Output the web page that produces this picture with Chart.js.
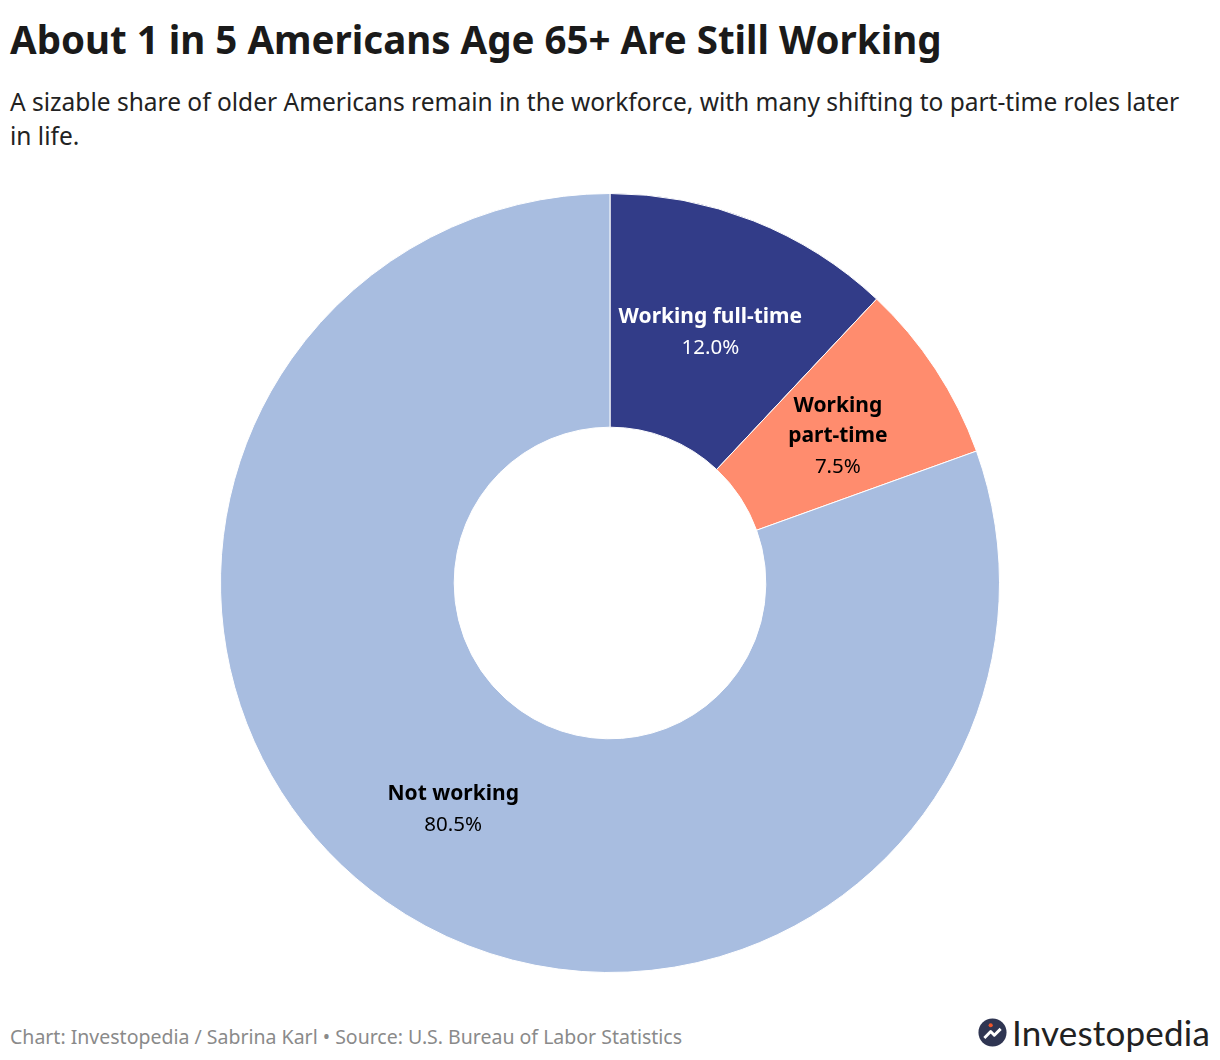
<!DOCTYPE html>
<html>
<head>
<meta charset="utf-8">
<script src="https://cdn.jsdelivr.net/npm/chart.js@4.4.1/dist/chart.umd.min.js"></script>
<style>
  html, body { margin: 0; padding: 0; background: #fff; }
  body { width: 1220px; height: 1060px; position: relative; font-family: "Noto Sans", Lato, sans-serif; color: #1a1a1a; overflow: hidden; }
  h1 { position: absolute; left: 10px; top: 20px; margin: 0; font-size: 38.5px; line-height: 38.5px; font-weight: 700; white-space: nowrap; }
  .sub { position: absolute; left: 10px; top: 85px; width: 1205px; margin: 0; font-size: 24.5px; line-height: 34px; color: #222; white-space: nowrap; }
  .wrap { position: absolute; left: 0; top: 193px; width: 1220px; height: 780px; }
  .foot { position: absolute; left: 10px; top: 1027px; font-size: 19.5px; line-height: 19.5px; color: #8a8a8a; white-space: nowrap; }
  .logo { position: absolute; right: 10px; top: 1011px; display: flex; align-items: center; }
  .logo svg { margin-right: 5px; }
  .logo span { font-family: Lato, sans-serif; font-size: 35px; color: #222; letter-spacing: 0.2px; }
</style>
</head>
<body>
<h1>About 1 in 5 Americans Age 65+ Are Still Working</h1>
<p class="sub">A sizable share of older Americans remain in the workforce, with many shifting to part-time roles later<br>in life.</p>
<div class="wrap"><canvas id="donut"></canvas></div>
<div class="foot">Chart: Investopedia / Sabrina Karl • Source: U.S. Bureau of Labor Statistics</div>
<div class="logo">
  <svg width="29" height="29" viewBox="0 0 32 32">
    <circle cx="16" cy="16" r="15.5" fill="#2f3552"/>
    <path d="M7 22 L14 15 L18 19 L25 12" stroke="#fff" stroke-width="3.2" fill="none" stroke-linejoin="round"/>
    <circle cx="14" cy="8" r="2.3" fill="#f0562a"/>
  </svg>
  <span>Investopedia</span>
</div>
<script>
const categories = ['Working full-time', 'Working part-time', 'Not working'];
const labelLines = [['Working full-time'], ['Working', 'part-time'], ['Not working']];
const shares = [12.0, 7.5, 80.5];
const colors = ['#323c88', '#ff8c6e', '#a8bde0'];
const textColors = ['#ffffff', '#000000', '#000000'];

const sliceLabels = {
  id: 'sliceLabels',
  afterDatasetsDraw(chart) {
    const ctx = chart.ctx;
    const meta = chart.getDatasetMeta(0);
    meta.data.forEach((arc, i) => {
      const p = arc.tooltipPosition();
      const lines = labelLines[i];
      const lh = 30;
      const total = lines.length + 1;
      let y = p.y - (total - 1) * lh / 2 + 3;
      ctx.save();
      ctx.textAlign = 'center';
      ctx.textBaseline = 'middle';
      ctx.fillStyle = textColors[i];
      ctx.font = 'bold 21px "Noto Sans", Lato, sans-serif';
      lines.forEach(l => { ctx.fillText(l, p.x, y); y += lh; });
      ctx.font = '20.5px "Noto Sans", Lato, sans-serif';
      ctx.fillText(shares[i].toFixed(1) + '%', p.x, y + 1);
      ctx.restore();
    });
  }
};

new Chart(document.getElementById('donut'), {
  type: 'doughnut',
  data: {
    labels: categories,
    datasets: [{
      data: shares,
      backgroundColor: colors,
      borderColor: '#ffffff',
      borderWidth: 1,
      hoverOffset: 0
    }]
  },
  options: {
    responsive: true,
    maintainAspectRatio: false,
    animation: false,
    cutout: '40%',
    layout: { padding: 0 },
    plugins: {
      legend: { display: false },
      tooltip: { enabled: false }
    }
  },
  plugins: [sliceLabels]
});
</script>
</body>
</html>
